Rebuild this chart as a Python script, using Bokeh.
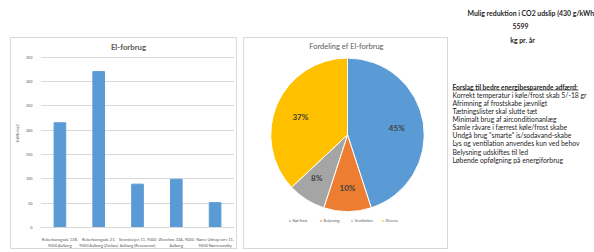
import math
from bokeh.plotting import figure
from bokeh.layouts import row
from bokeh.models import Range1d, FixedTicker, ColumnDataSource, Legend, LegendItem
from bokeh.core.properties import value
from bokeh.embed import file_html
from bokeh.resources import INLINE

# ---------------- data ----------------
sites = [
    "Reberbansgade 13B,\n9000 Aalborg",
    "Reberbansgade 21,\n9000 Aalborg (Zorbas)",
    "Strandvejen 11, 9000\nAalborg (Restaurant)",
    "Østerbro 33A, 9000\nAalborg",
    "Nørre Uttrup torv 11,\n9400 Nørresundby",
]
kwh_m2 = [215, 320, 89, 99, 51]
y_ticks = [0, 50, 100, 150, 200, 250, 300, 350]

pie_labels = ["Køl/frost", "Belysning", "Ventilation", "Diverse"]
pie_shares = [45, 10, 8, 37]
pie_colors = ["#5B9BD5", "#ED7D31", "#A5A5A5", "#FFC000"]

header_lines = ["Mulig reduktion i CO2 udslip (430 g/kWh", "5599", "kg pr. år"]
tips_title = "Forslag til bedre energibesparende adfærd:"
tips = [
    "Korrekt temperatur i køle/frost skab 5/-18 gr",
    "Afrimning af frostskabe jævnligt",
    "Tætningslister skal slutte tæt",
    "Minimalt brug af airconditionanlæg",
    "Samle råvare i færrest køle/frost skabe",
    "Undgå brug \"smarte\" is/sodavand-skabe",
    "Lys og ventilation anvendes kun ved behov",
    "Belysning udskiftes til led",
    "Løbende opfølgning på energiforbrug",
]

FONT = "Lato"
GRAY = "#595959"
BORDER = {"border": "1px solid #d9d9d9", "box-sizing": "border-box"}

# ---------------- bar chart ----------------
bar = figure(x_range=sites, y_range=Range1d(0, 388), width=227, height=212,
             output_backend="svg", toolbar_location=None, title=None,
             min_border_left=22, min_border_right=4, min_border_top=0, min_border_bottom=16,
             margin=(37, 0, 0, 10))
bar.styles = BORDER
bar.vbar(x=sites, top=kwh_m2, width=0.3, color="#5B9BD5")
bar.text(x=[sites[2]], y=[370], x_offset=-9, text=["El-forbrug"], text_font=value(FONT),
         text_font_size="7.8px", text_font_style="bold", text_color=GRAY,
         text_align="center", text_baseline="middle")
bar.outline_line_color = None
bar.xgrid.grid_line_color = None
bar.ygrid.grid_line_color = "#d9d9d9"
bar.ygrid.ticker = FixedTicker(ticks=y_ticks)
bar.yaxis.ticker = FixedTicker(ticks=y_ticks)
bar.yaxis.axis_label = "kWh/m2"
bar.yaxis.axis_label_text_font_size = "4.5px"
bar.yaxis.axis_label_text_font_style = "normal"
bar.yaxis.axis_label_text_color = GRAY
bar.yaxis.axis_label_text_font = FONT
bar.yaxis.axis_label_standoff = 3
for ax in (bar.xaxis[0], bar.yaxis[0]):
    ax.major_tick_line_color = None
    ax.minor_tick_line_color = None
    ax.major_label_text_color = GRAY
    ax.major_label_text_font = FONT
bar.yaxis.major_label_text_font_size = "3.8px"
bar.xaxis.major_label_text_font_size = "4px"
bar.yaxis.axis_line_color = None
bar.xaxis.axis_line_color = "#d9d9d9"
bar.xaxis.major_label_standoff = 3
bar.yaxis.major_label_standoff = 2

# ---------------- pie chart ----------------
PW, PH = 203, 210   # canvas inside the 1px border
pie = figure(width=205, height=212, x_range=Range1d(0, PW), y_range=Range1d(0, PH),
             output_backend="svg", toolbar_location=None, title=None,
             x_axis_location=None, y_axis_location=None,
             min_border=0, margin=(37, 0, 0, 6))
pie.styles = BORDER
pie.grid.visible = False
pie.outline_line_color = None

total = sum(pie_shares)
starts, ends, mids = [], [], []
cum = 0
for s in pie_shares:
    a0 = math.pi / 2 - 2 * math.pi * cum / total
    cum += s
    a1 = math.pi / 2 - 2 * math.pi * cum / total
    starts.append(a0)
    ends.append(a1)
    mids.append((a0 + a1) / 2)

cx, cy, rad = 102, 103, 76
src = ColumnDataSource(dict(start=starts, end=ends, color=pie_colors, label=pie_labels))
wr = pie.wedge(x=cx, y=cy, radius=rad, start_angle="start", end_angle="end",
               direction="clock", fill_color="color", line_color="white",
               line_width=1, source=src)

lab_r = [0.65, 0.78, 0.75, 0.67]
lab_x = [cx + f * rad * math.cos(m) for f, m in zip(lab_r, mids)]
lab_y = [cy + f * rad * math.sin(m) for f, m in zip(lab_r, mids)]
pie.text(x=lab_x, y=lab_y, text=[f"{s}%" for s in pie_shares],
         text_font=value(FONT), text_font_size="8px", text_font_style="bold",
         text_color="#404040", text_align="center", text_baseline="middle")
pie.text(x=[101], y=[201], text=["Fordeling ef El-forbrug"],
         text_font=value(FONT), text_font_size="7.5px", text_color=GRAY,
         text_align="center", text_baseline="middle")

legend = Legend(items=[LegendItem(label=l, renderers=[wr], index=i) for i, l in enumerate(pie_labels)],
                orientation="horizontal", location="bottom_center",
                label_text_font_size="3.8px", label_text_color=GRAY, label_text_font=FONT,
                glyph_width=3, glyph_height=3, label_standoff=2, spacing=6,
                padding=1, margin=4, border_line_color=None, background_fill_alpha=0,
                label_height=4)
pie.add_layout(legend)

# ---------------- text panel ----------------
TW, TH = 146, 252
txt = figure(width=TW, height=TH, x_range=Range1d(0, TW), y_range=Range1d(TH, 0),
             output_backend="svg", toolbar_location=None, title=None,
             x_axis_location=None, y_axis_location=None,
             min_border=0, margin=(0, 0, 0, 0))
txt.grid.visible = False
txt.outline_line_color = None

txt.text(x=[19], y=[14], text=[header_lines[0]], text_font=value(FONT),
         text_font_size="6.9px", text_font_style="bold", text_color="#262626",
         text_align="left", text_baseline="middle")
txt.text(x=[72, 74], y=[28, 43], text=header_lines[1:], text_font=value(FONT),
         text_font_size="6.9px", text_font_style="bold", text_color="#262626",
         text_align="center", text_baseline="middle")

tx0, ty0, dy = 4, 95, 8.9
txt.text(x=[tx0], y=[ty0], text=[tips_title], text_font=value(FONT),
         text_font_size="6.6px", text_font_style="bold", text_color="#262626",
         text_align="left", text_baseline="middle")
txt.segment(x0=[tx0], y0=[ty0 + 3.6], x1=[tx0 + 126], y1=[ty0 + 3.6],
            line_color="#262626", line_width=0.6)
txt.text(x=[tx0] * len(tips), y=[ty0 + dy * (i + 1) for i in range(len(tips))], text=tips,
         text_font=value(FONT), text_font_size="6.8px", text_color="#262626",
         text_align="left", text_baseline="middle")

layout = row(bar, pie, txt, spacing=0)
open("out.html", "w").write(file_html(layout, INLINE))
